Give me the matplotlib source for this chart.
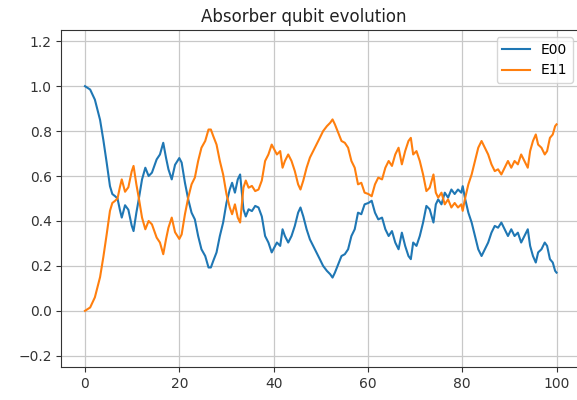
import matplotlib
matplotlib.use("Agg")
import matplotlib.pyplot as plt

# time points
t = [0.0, 1.1, 2.1, 3.2, 3.9, 4.6, 5.3, 5.8, 6.4, 6.9, 7.4, 7.8, 8.5, 9.2, 9.9,
     10.3, 10.9, 11.4, 12.1, 12.8, 13.5, 14.2, 15.2, 15.9, 16.6, 17.2, 17.7, 18.4, 19.1,
     20.0, 20.5, 21.2, 21.9, 22.6, 23.3, 24.0, 24.7, 25.5, 26.2, 26.7, 27.2, 27.9, 28.6,
     29.3, 30.0, 30.7, 31.2, 31.8, 32.4, 32.9, 33.2, 33.6, 34.1, 34.7, 35.4, 36.1, 36.8,
     37.5, 38.2, 38.9, 39.6,
     40.7, 41.4, 41.9, 42.4, 43.1, 43.8, 44.5, 45.2, 45.7, 46.3, 47.0, 47.7, 48.4, 49.1,
     49.8, 50.5, 51.3, 52.0, 52.5, 53.0, 53.7, 54.4, 55.1, 55.8, 56.5, 57.2, 57.9, 58.6, 59.3,
     60.1, 60.8, 61.5, 62.2, 63.0, 63.7, 64.4, 65.1, 65.8, 66.5, 67.2, 67.9, 68.6, 69.1,
     69.6, 70.3, 71.0, 71.7, 72.4, 73.1, 73.9, 74.4, 74.9, 75.6, 76.3, 77.0, 77.7, 78.4,
     79.1, 79.8,
     80.1, 80.6, 81.3, 82.0, 82.7, 83.4, 84.1, 84.8, 85.5, 86.2, 86.9, 87.6, 88.3, 89.0,
     89.7, 90.4, 91.1, 91.8, 92.5, 93.2, 93.9, 94.4, 95.0, 95.6, 96.1, 96.8, 97.5, 98.0,
     98.6, 99.2, 99.7, 100.0]

e00 = [1.0, 0.985, 0.94, 0.85, 0.76, 0.66, 0.555, 0.52, 0.51, 0.50, 0.45, 0.415, 0.47, 0.45, 0.38,
       0.355, 0.437, 0.496, 0.585, 0.637, 0.60, 0.615, 0.674, 0.696, 0.748, 0.68, 0.63, 0.585, 0.65,
       0.68, 0.66, 0.57, 0.496, 0.437, 0.407, 0.333, 0.274, 0.244, 0.193, 0.193, 0.222, 0.26, 0.333,
       0.393, 0.48, 0.54, 0.57, 0.526, 0.585, 0.607, 0.54, 0.452, 0.42, 0.452, 0.444, 0.467, 0.46,
       0.42, 0.333, 0.304, 0.26,
       0.304, 0.289, 0.363, 0.333, 0.304, 0.333, 0.378, 0.437, 0.46, 0.42, 0.363, 0.318, 0.289, 0.26,
       0.23, 0.20, 0.178, 0.163, 0.148, 0.17, 0.207, 0.244, 0.252, 0.274, 0.333, 0.363, 0.437, 0.43, 0.474,
       0.48, 0.49, 0.437, 0.407, 0.415, 0.363, 0.333, 0.355, 0.304, 0.274, 0.348, 0.289, 0.244, 0.23,
       0.304, 0.289, 0.333, 0.393, 0.467, 0.452, 0.393, 0.474, 0.496, 0.474, 0.526, 0.504, 0.54, 0.52,
       0.54, 0.526,
       0.555, 0.50, 0.437, 0.393, 0.333, 0.274, 0.244, 0.274, 0.304, 0.348, 0.378, 0.37, 0.393, 0.363,
       0.333, 0.363, 0.333, 0.348, 0.304, 0.333, 0.363, 0.289, 0.244, 0.215, 0.26, 0.274, 0.304, 0.289,
       0.23, 0.215, 0.178, 0.17]

e11 = [0.0, 0.015, 0.06, 0.15, 0.24, 0.34, 0.445, 0.48, 0.49, 0.50, 0.55, 0.585, 0.53, 0.55, 0.62,
       0.645, 0.563, 0.504, 0.415, 0.363, 0.40, 0.385, 0.326, 0.304, 0.252, 0.32, 0.37, 0.415, 0.35,
       0.32, 0.34, 0.43, 0.504, 0.563, 0.593, 0.667, 0.726, 0.756, 0.807, 0.807, 0.778, 0.74, 0.667,
       0.607, 0.52, 0.46, 0.43, 0.474, 0.415, 0.393, 0.46, 0.548, 0.58, 0.548, 0.556, 0.533, 0.54,
       0.58, 0.667, 0.696, 0.74,
       0.696, 0.711, 0.637, 0.667, 0.696, 0.667, 0.622, 0.563, 0.54, 0.58, 0.637, 0.682, 0.711, 0.74,
       0.77, 0.80, 0.822, 0.837, 0.852, 0.83, 0.793, 0.756, 0.748, 0.726, 0.667, 0.637, 0.563, 0.57, 0.526,
       0.52, 0.51, 0.563, 0.593, 0.585, 0.637, 0.667, 0.645, 0.696, 0.726, 0.652, 0.711, 0.756, 0.77,
       0.696, 0.711, 0.667, 0.607, 0.533, 0.548, 0.607, 0.526, 0.504, 0.526, 0.474, 0.496, 0.46, 0.48,
       0.46, 0.474,
       0.445, 0.50, 0.563, 0.607, 0.667, 0.726, 0.756, 0.726, 0.696, 0.652, 0.622, 0.63, 0.607, 0.637,
       0.667, 0.637, 0.667, 0.652, 0.696, 0.667, 0.637, 0.711, 0.756, 0.785, 0.74, 0.726, 0.696, 0.711,
       0.77, 0.785, 0.822, 0.83]

fig = plt.figure(figsize=(5.77, 4.0), dpi=100)
# axes run a little past the right edge, as in the cropped original
ax = fig.add_axes([0.1064, 0.0825, 0.899, 0.8425])

ax.plot(t, e00, color="#1f77b4", lw=1.5, label="E00")
ax.plot(t, e11, color="#ff7f0e", lw=1.5, label="E11")

ax.set_xlim(-5, 105)
ax.set_ylim(-0.25, 1.25)
ax.set_xticks([0, 20, 40, 60, 80, 100])
ax.set_yticks([-0.2, 0.0, 0.2, 0.4, 0.6, 0.8, 1.0, 1.2])
ax.grid(True, color="#c8c8c8", lw=0.9)
ax.set_axisbelow(True)
for s in ax.spines.values():
    s.set_color("#333333")
ax.tick_params(colors="#333333")
ax.set_title("Absorber qubit evolution", x=0.468, color="#222222")
ax.legend(loc="upper right")

fig.savefig("out.png", dpi=100)
